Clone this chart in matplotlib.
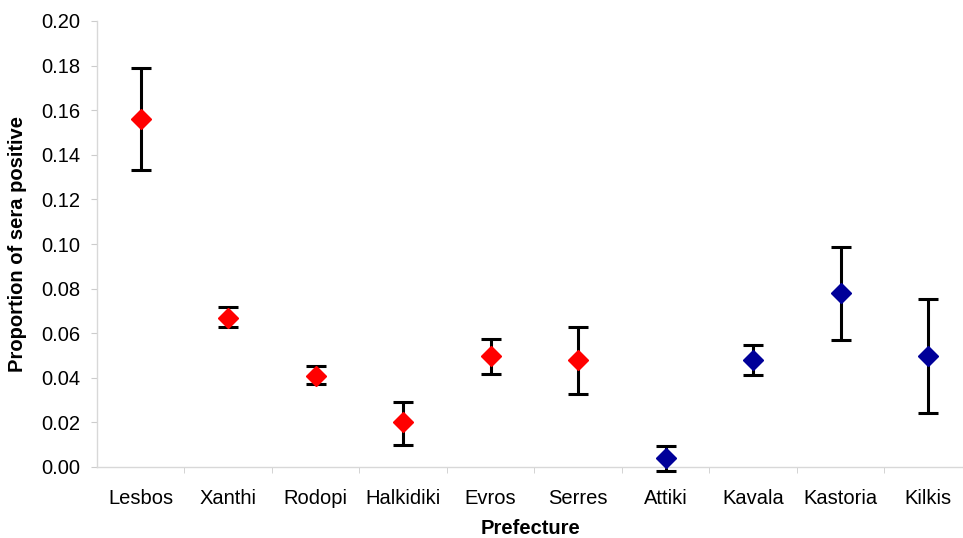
import matplotlib
matplotlib.use("Agg")
import matplotlib.pyplot as plt
import numpy as np

plt.rcParams['font.family'] = ['Liberation Sans', 'DejaVu Sans']

prefectures = ["Lesbos", "Xanthi", "Rodopi", "Halkidiki", "Evros", "Serres",
               "Attiki", "Kavala", "Kastoria", "Kilkis"]
proportion = [0.156, 0.067, 0.041, 0.020, 0.050, 0.048, 0.004, 0.048, 0.078, 0.050]
upper = [0.179, 0.0717, 0.0453, 0.029, 0.0574, 0.063, 0.0094, 0.0547, 0.0987, 0.0753]
lower = [0.133, 0.0628, 0.0372, 0.0099, 0.0417, 0.0327, -0.002, 0.0413, 0.057, 0.0242]
group = ["red"] * 6 + ["blue"] * 4

colors = {"red": "#ff0000", "blue": "#000099"}

fig = plt.figure(figsize=(9.63, 5.38), dpi=100)
ax = fig.add_axes([97 / 963, 71 / 538, (963 - 97) / 963, 446 / 538])

x = np.arange(len(prefectures))
y = np.array(proportion)
yerr = np.vstack([y - np.array(lower), np.array(upper) - y])

ax.errorbar(x, y, yerr=yerr, fmt="none", ecolor="black", elinewidth=2.2,
            capsize=7, capthick=2.2, zorder=2, clip_on=False)
for xi, yi, g in zip(x, y, group):
    ax.plot(xi, yi, marker="D", markersize=10, color=colors[g],
            markeredgecolor=colors[g], linestyle="none", zorder=3, clip_on=False)

ax.set_xlim(-0.5, 9.4)
ax.set_ylim(0, 0.20)
yt = np.arange(0, 0.201, 0.02)
ax.set_yticks(yt)
ax.set_yticklabels([f"{v:.2f}" for v in yt], fontsize=14.5)
ax.set_xticks(x)
ax.set_xticklabels(prefectures, fontsize=14.5)
ax.set_xticks(np.arange(0.5, 9.5, 1), minor=True)
ax.tick_params(axis="x", which="major", length=0, pad=16)
ax.tick_params(axis="x", which="minor", length=4, color="#cccccc", direction="out")
ax.tick_params(axis="y", length=4, color="#cccccc", direction="out", pad=8)

for side in ["top", "right"]:
    ax.spines[side].set_visible(False)
for side in ["left", "bottom"]:
    ax.spines[side].set_color("#d8d8d8")
    ax.spines[side].set_linewidth(1.0)

ax.set_xlabel("Prefecture", fontsize=14.5, fontweight="bold", labelpad=8)
ax.set_ylabel("Proportion of sera positive", fontsize=14.5, fontweight="bold", labelpad=10)

fig.savefig("out.png", dpi=100)
